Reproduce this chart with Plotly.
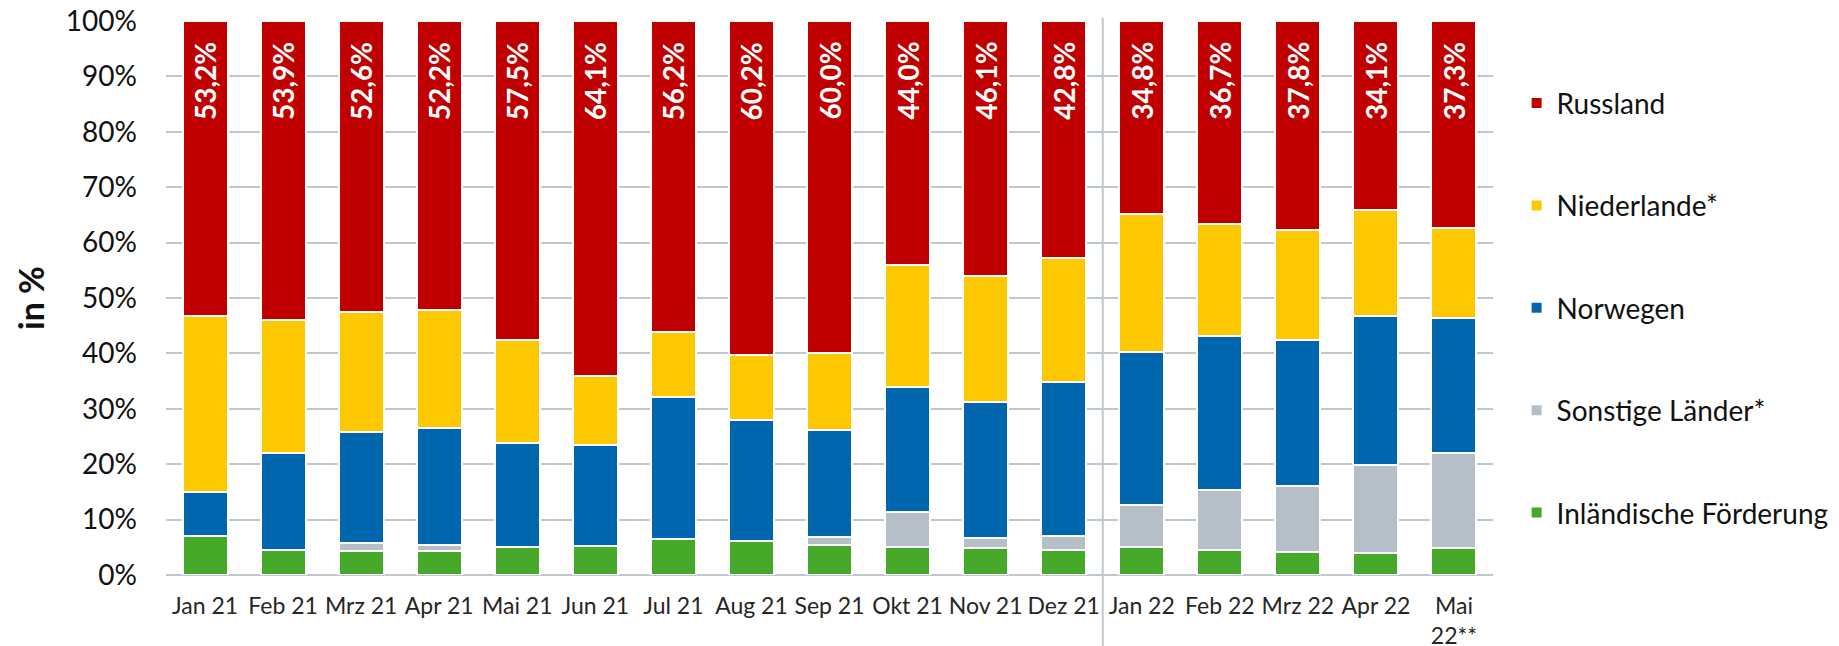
import plotly.graph_objects as go

categories = ["Jan 21", "Feb 21", "Mrz 21", "Apr 21", "Mai 21", "Jun 21", "Jul 21", "Aug 21",
              "Sep 21", "Okt 21", "Nov 21", "Dez 21", "Jan 22", "Feb 22", "Mrz 22", "Apr 22",
              "Mai<br>22**"]

inland = [7.1, 4.6, 4.4, 4.4, 5.0, 5.3, 6.5, 6.2, 5.5, 5.0, 4.9, 4.6, 5.0, 4.6, 4.1, 3.9, 4.8]
sonstige = [0, 0, 1.3, 1.1, 0, 0, 0, 0, 1.4, 6.3, 1.8, 2.5, 7.6, 10.8, 12.0, 15.9, 17.3]
norwegen = [7.9, 17.4, 20.2, 21.1, 18.8, 18.1, 25.6, 21.8, 19.2, 22.6, 24.5, 27.7, 27.7, 27.8, 26.4, 26.9, 24.3]
niederlande = [31.8, 24.1, 21.5, 21.2, 18.7, 12.5, 11.7, 11.8, 13.9, 22.1, 22.7, 22.4, 24.9, 20.1, 19.7, 19.2, 16.3]
russland = [53.2, 53.9, 52.6, 52.2, 57.5, 64.1, 56.2, 60.2, 60.0, 44.0, 46.1, 42.8, 34.8, 36.7, 37.8, 34.1, 37.3]

ytick_vals = [0, 10, 20, 30, 40, 50, 60, 70, 80, 90, 100]
ytick_text = ["0%", "10%", "20%", "30%", "40%", "50%", "60%", "70%", "80%", "90%", "100%"]

FONT = "Lato"

series = [
    ("Inländische Förderung", inland, "#47A92A"),
    ("Sonstige Länder*", sonstige, "#B6BEC7"),
    ("Norwegen", norwegen, "#0067AE"),
    ("Niederlande*", niederlande, "#FEC800"),
    ("Russland", russland, "#C00000"),
]

fig = go.Figure()
for i, (name, vals, col) in enumerate(series):
    fig.add_trace(go.Bar(
        x=categories, y=vals, name=name,
        marker=dict(color=col, line=dict(color="white", width=2)),
        legendgroup=name, legendrank=5 - i,
        hoverinfo="skip",
    ))

# Russland share labels, rotated, at the top of each red bar
for cat, v in zip(categories, russland):
    fig.add_annotation(
        x=cat, y=100, xref="x", yref="y",
        text="<b>" + f"{v:.1f}%".replace(".", ",") + "</b>",
        textangle=-90, showarrow=False,
        xanchor="center", yanchor="top", yshift=-19,
        font=dict(family=FONT, size=28, color="white"),
    )

# y-axis title
fig.add_annotation(
    x=-0.1025, y=0.50, xref="paper", yref="paper",
    text="<b>in %</b>", textangle=-90, showarrow=False,
    xanchor="center", yanchor="middle",
    font=dict(family=FONT, size=34, color="#111111"),
)

fig.add_shape(type="line", xref="x", yref="paper", x0=11.5, x1=11.5, y0=-0.13, y1=1.006,
              line=dict(color="#BFC7CF", width=2), layer="below")

fig.update_layout(
    barmode="stack",
    bargap=0.424,
    width=1839, height=646,
    margin=dict(l=158, r=353.6, t=13, b=79, autoexpand=False),
    plot_bgcolor="white", paper_bgcolor="white",
    font=dict(family=FONT, color="#1a1a1a"),
    legend=dict(
        x=1.0178, xanchor="left", y=0.8966, yanchor="top",
        font=dict(family=FONT, size=28, color="#111111"),
        tracegroupgap=63,
        traceorder="grouped",
        bgcolor="rgba(0,0,0,0)",
    ),
    showlegend=True,
)
fig.update_yaxes(
    range=[0, 100], tickvals=ytick_vals, ticktext=ytick_text,
    showgrid=True, gridcolor="#BFC7CF", gridwidth=2,
    zeroline=True, zerolinecolor="#BFC7CF", zerolinewidth=2,
    showline=False, ticks="", ticklabelstandoff=28, automargin=False,
    ticklabeloverflow="allow",
    tickfont=dict(family=FONT, size=28, color="#111111"),
)
fig.update_xaxes(
    showgrid=False, showline=False, ticks="", ticklabelstandoff=15, automargin=False,
    ticklabeloverflow="allow",
    tickfont=dict(family=FONT, size=23, color="#262626"),
    tickangle=0,
)

fig.write_html("out.html")
